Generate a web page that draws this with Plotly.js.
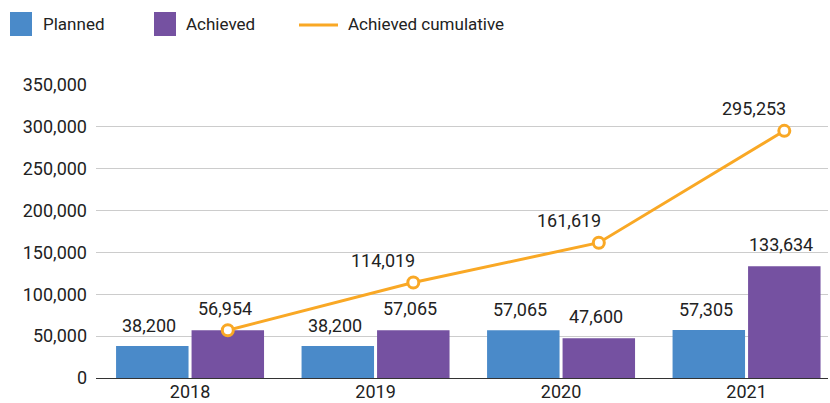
<!DOCTYPE html>
<html><head><meta charset="utf-8">
<script src="https://cdn.plot.ly/plotly-3.0.1.min.js"></script>
<style>html,body{margin:0;padding:0;background:#fff}#chart{width:830px;height:403px}</style>
</head><body><div id="chart"></div>
<script>
const years = ['2018', '2019', '2020', '2021'];
const planned = [38200, 38200, 57065, 57305];
const achieved = [56954, 57065, 47600, 133634];
const cumulative = [56954, 114019, 161619, 295253];
const yTicks = [0, 50000, 100000, 150000, 200000, 250000, 300000, 350000];

const C_PLAN = '#4A8AC9', C_ACH = '#7551A1', C_CUM = '#F9A825', TXT = '#222222';
const FONT = 'Roboto, Arial, sans-serif';
const W = 830, H = 403, L = 96, R = 2, T = 85, B = 25;
const pw = W - L - R, ph = H - T - B;
const px = x => (x - L) / pw, py = y => (H - B - y) / ph;
const xr = [-0.507, 3.439];
const off = 0.2035; // half of a bar slot in category units
const offPx = off * pw / (xr[1] - xr[0]);
const fmt = v => v.toLocaleString('en-US');

const traces = [
  {type: 'bar', x: years, y: planned, name: 'Planned', marker: {color: C_PLAN}, hoverinfo: 'none'},
  {type: 'bar', x: years, y: achieved, name: 'Achieved', marker: {color: C_ACH}, hoverinfo: 'none'},
  {type: 'scatter', mode: 'lines+markers', x: years, y: cumulative, xaxis: 'x2', name: 'Achieved cumulative',
   line: {color: C_CUM, width: 3}, marker: {symbol: 'circle', size: 11, color: '#ffffff', line: {color: C_CUM, width: 3}},
   cliponaxis: false, hoverinfo: 'none'}
];

const LBL = {size: 18, color: TXT, family: FONT};
const ann = [];
years.forEach((yr, i) => {
  ann.push({x: i, y: planned[i], xref: 'x', yref: 'y', xshift: -offPx - 3, text: fmt(planned[i]), showarrow: false,
    yanchor: 'bottom', yshift: 8, font: LBL});
  ann.push({x: i, y: achieved[i], xref: 'x', yref: 'y', xshift: offPx - 3, text: fmt(achieved[i]), showarrow: false,
    yanchor: 'bottom', yshift: 9, font: LBL});
  if (cumulative[i] !== achieved[i]) {
    ann.push({x: i, y: cumulative[i], xref: 'x', yref: 'y', xshift: offPx - 30, text: fmt(cumulative[i]), showarrow: false,
      yanchor: 'bottom', yshift: 10, font: LBL});
  }
});

// custom legend
const shapes = [
  {type: 'rect', xref: 'paper', yref: 'paper', x0: px(10), x1: px(32), y0: py(36), y1: py(12), fillcolor: C_PLAN, line: {width: 0}},
  {type: 'rect', xref: 'paper', yref: 'paper', x0: px(154), x1: px(176), y0: py(36), y1: py(12), fillcolor: C_ACH, line: {width: 0}},
  {type: 'line', xref: 'paper', yref: 'paper', x0: px(299), x1: px(338), y0: py(25), y1: py(25), line: {color: C_CUM, width: 3}}
];
[['Planned', 41], ['Achieved', 184], ['Achieved cumulative', 346]].forEach(([t, x]) => {
  ann.push({xref: 'paper', yref: 'paper', x: px(x), y: py(24), xanchor: 'left', yanchor: 'middle', text: t,
    showarrow: false, font: {size: 17, color: TXT, family: FONT}});
});

const layout = {
  width: W, height: H,
  margin: {l: L, r: R, t: T, b: B, pad: 0},
  paper_bgcolor: '#ffffff', plot_bgcolor: '#ffffff',
  font: {family: FONT, size: 18, color: TXT},
  showlegend: false,
  barmode: 'group', bargap: 0.186, bargroupgap: 0.04,
  xaxis: {type: 'category', range: xr, showgrid: false, zeroline: false, showline: true, linecolor: '#333333', linewidth: 1,
    ticks: '', ticklabelstandoff: -3, tickfont: {size: 18, color: TXT}, fixedrange: true},
  xaxis2: {type: 'category', overlaying: 'x', range: [xr[0] - off, xr[1] - off], visible: false, fixedrange: true},
  yaxis: {range: [0, 350000], tickvals: yTicks, ticktext: yTicks.map(fmt), showgrid: true, gridcolor: '#cccccc', gridwidth: 1,
    zeroline: false, showline: false, ticks: '', ticklabelstandoff: 8, tickfont: {size: 18, color: TXT}, fixedrange: true},
  annotations: ann,
  shapes: shapes
};

Plotly.newPlot('chart', traces, layout, {displayModeBar: false, staticPlot: true});
</script></body></html>
